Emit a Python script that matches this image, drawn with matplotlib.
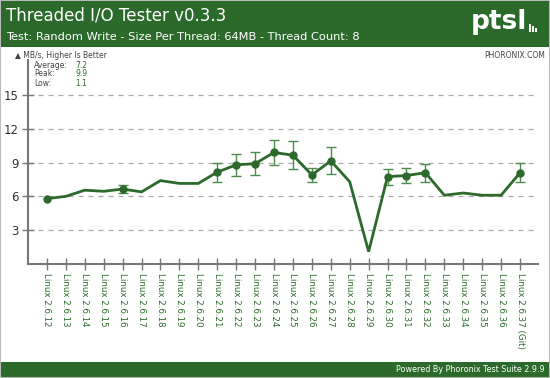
import numpy as np
import matplotlib
matplotlib.use("Agg")
import matplotlib.pyplot as plt
from matplotlib.patches import Rectangle

kernels = ["2.6.12", "2.6.13", "2.6.14", "2.6.15", "2.6.16", "2.6.17", "2.6.18",
           "2.6.19", "2.6.20", "2.6.21", "2.6.22", "2.6.23", "2.6.24", "2.6.25",
           "2.6.26", "2.6.27", "2.6.28", "2.6.29", "2.6.30", "2.6.31", "2.6.32",
           "2.6.33", "2.6.34", "2.6.35", "2.6.36", "2.6.37 (Git)"]
labels = ["Linux " + k for k in kernels]
mbs = [5.8, 6.0, 6.55, 6.45, 6.65, 6.4, 7.4, 7.15, 7.15, 8.15, 8.8, 8.9, 9.9, 9.65,
       7.9, 9.15, 7.3, 1.1, 7.75, 7.85, 8.1, 6.1, 6.3, 6.1, 6.1, 8.1]
err = [0.0, 0, 0, 0, 0.35, 0, 0, 0, 0, 0.85, 1.0, 1.0, 1.1, 1.25,
       0.6, 1.2, 0, 0, 0.7, 0.65, 0.8, 0, 0, 0, 0, 0.85]
has_marker = [1, 0, 0, 0, 1, 0, 0, 0, 0, 1, 1, 1, 1, 1,
              1, 1, 0, 0, 1, 1, 1, 0, 0, 0, 0, 1]
yticks = [3, 6, 9, 12, 15]

green = "#2c6a2c"
W, H = 550, 378
fig = plt.figure(figsize=(5.5, 3.78), dpi=100)
fig.patch.set_facecolor("white")

def fx(px):
    return px / W

def fy(py):
    return 1 - py / H

# border, header, footer
fig.patches.append(Rectangle((0, 0), 1, 1, transform=fig.transFigure, fill=False,
                             edgecolor="#bbbbbb", linewidth=1.5))
fig.patches.append(Rectangle((fx(1), fy(47)), fx(548), 46 / H, transform=fig.transFigure,
                             facecolor=green, edgecolor="none"))
fig.patches.append(Rectangle((fx(1), fy(377)), fx(548), 15 / H, transform=fig.transFigure,
                             facecolor=green, edgecolor="none"))

fig.text(fx(6), fy(16), "Threaded I/O Tester v0.3.3", color="white", fontsize=12.0,
         va="center", ha="left")
fig.text(fx(6), fy(37), "Test: Random Write - Size Per Thread: 64MB - Thread Count: 8",
         color="white", fontsize=8.2, va="center", ha="left")
fig.text(fx(527), fy(22), "ptsl", color="white", fontsize=19, va="center", ha="right",
         fontweight="semibold")
for bx, bh in [(529, 8), (532, 6), (535, 4)]:
    fig.patches.append(Rectangle((fx(bx), fy(32)), fx(2), bh / H, transform=fig.transFigure,
                                 facecolor="white", edgecolor="none"))
fig.text(fx(545), fy(370), "Powered By Phoronix Test Suite 2.9.9", color="white",
         fontsize=5.8, va="center", ha="right")

fig.text(fx(15), fy(55), "\u25b2 MB/s, Higher Is Better", color="#444444", fontsize=5.5,
         va="center", ha="left")
fig.text(fx(545), fy(55), "PHORONIX.COM", color="#444444", fontsize=5.5,
         va="center", ha="right")

stats = [("Average:", np.mean(mbs)), ("Peak:", max(mbs)), ("Low:", min(mbs))]
for i, (name, v) in enumerate(stats):
    fig.text(fx(34), fy(65 + 9 * i), name, color="#444444", fontsize=5.5, va="center")
    fig.text(fx(75), fy(65 + 9 * i), "%.1f" % v, color=green, fontsize=5.5, va="center")

ax = fig.add_axes([fx(28), fy(264), (538 - 28) / W, (264 - 60) / H])
x = np.arange(len(mbs))
ax.plot(x, mbs, color=green, linewidth=2.0, solid_joinstyle="miter", zorder=3)
for i in range(len(mbs)):
    if err[i] > 0:
        ax.errorbar(x[i], mbs[i], yerr=err[i], color="#4d8a4d", capsize=3.5,
                    elinewidth=1, capthick=1, fmt="none", zorder=2)
    if has_marker[i]:
        ax.plot(x[i], mbs[i], "o", color=green, markersize=5, zorder=4)

ax.set_xlim(-1.0, 25.95)
ax.set_ylim(0, 18.1)
ax.set_yticks(yticks)
ax.set_yticklabels([str(t) for t in yticks], color="#333333", fontsize=8.5)
ax.set_xticks(x)
ax.set_xticklabels(labels, rotation=270, color=green, fontsize=6.3, va="top", ha="center")
ax.tick_params(axis="y", direction="inout", length=9, width=1, color="#777777", pad=2)
ax.tick_params(axis="x", direction="inout", length=9, width=1, color="#777777", pad=2)
ax.grid(axis="y", color="#aaaaaa", linestyle=(0, (4, 4)), linewidth=0.9)
ax.set_axisbelow(True)
for s in ["top", "right"]:
    ax.spines[s].set_visible(False)
for s in ["left", "bottom"]:
    ax.spines[s].set_color("#777777")
    ax.spines[s].set_linewidth(1.5)
ax.patch.set_alpha(0)

plt.savefig("out.png", dpi=100)
